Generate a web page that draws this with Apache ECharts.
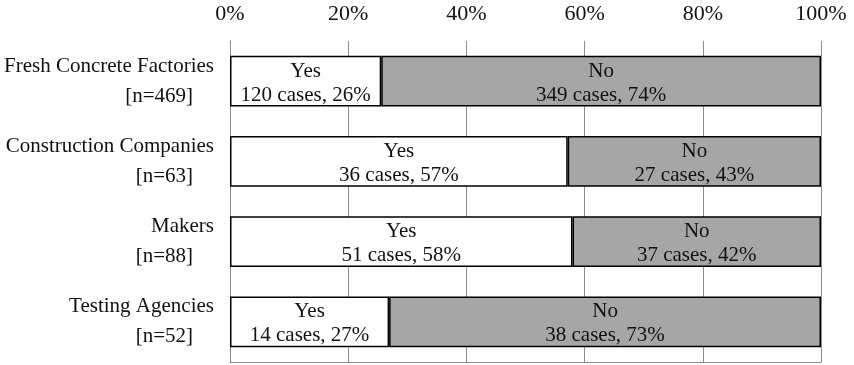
<!DOCTYPE html>
<html>
<head>
<meta charset="utf-8">
<script src="https://cdn.jsdelivr.net/npm/echarts@6/dist/echarts.min.js"></script>
<style>
  html, body { margin: 0; padding: 0; background: #fff; }
  #chart { width: 854px; height: 365px; }
</style>
</head>
<body>
<div id="chart"></div>
<script>
const categories = ["Fresh Concrete Factories", "Construction Companies", "Makers", "Testing Agencies"];
const sampleSizes = [469, 63, 88, 52];
const yesCases = [120, 36, 51, 14];
const noCases = [349, 27, 37, 38];
const yesLabels = [26, 57, 58, 27];
const noLabels = [74, 43, 42, 73];

const font = "'Liberation Serif', 'Times New Roman', serif";
const gray = "#a6a6a6";
const lineGray = "#8c8c8c";

// share of each answer within its group, in percent
const yesShare = yesCases.map((v, i) => (v / sampleSizes[i]) * 100);
const noShare = noCases.map((v, i) => (v / sampleSizes[i]) * 100);

function barLabel(word, cases, pcts) {
  return {
    show: true,
    position: "inside",
    offset: [0, 2],
    color: "#111",
    fontFamily: font,
    fontSize: 21,
    lineHeight: 24,
    formatter: (p) => word + "\n" + cases[p.dataIndex] + " cases, " + pcts[p.dataIndex] + "%",
  };
}

const chart = echarts.init(document.getElementById("chart"));
chart.setOption({
  animation: false,
  grid: { left: 230, right: 33, top: 41, bottom: 3 },
  xAxis: [
    {
      type: "value",
      position: "top",
      min: 0,
      max: 100,
      interval: 20,
      axisLine: { show: false },
      axisTick: { show: false },
      axisLabel: {
        color: "#111",
        fontFamily: font,
        fontSize: 22,
        margin: 16,
        formatter: "{value}%",
      },
      splitLine: { show: true, lineStyle: { color: lineGray, width: 1 } },
    },
    {
      type: "value",
      position: "bottom",
      min: 0,
      max: 100,
      axisLine: { show: true, onZero: false, lineStyle: { color: lineGray, width: 1 } },
      axisTick: { show: false },
      axisLabel: { show: false },
      splitLine: { show: false },
    },
  ],
  yAxis: {
    type: "category",
    inverse: true,
    data: categories,
    axisLine: { show: true, lineStyle: { color: lineGray, width: 1 } },
    axisTick: { show: false },
    axisLabel: {
      margin: 16,
      formatter: (v, i) => "{a|" + v + "}\n{b|[n=" + sampleSizes[i] + "]}",
      rich: {
        a: { fontFamily: font, fontSize: 21, color: "#111", lineHeight: 30, align: "right" },
        b: { fontFamily: font, fontSize: 21, color: "#111", lineHeight: 30, align: "right", padding: [0, 21, 0, 0] },
      },
    },
  },
  series: [
    {
      name: "Yes",
      type: "bar",
      stack: "total",
      barWidth: "63%",
      data: yesShare,
      itemStyle: { color: "#fff", borderColor: "#000", borderWidth: 1.5 },
      label: barLabel("Yes", yesCases, yesLabels),
    },
    {
      name: "No",
      type: "bar",
      stack: "total",
      barWidth: "63%",
      data: noShare,
      itemStyle: { color: gray, borderColor: "#000", borderWidth: 1.5 },
      label: barLabel("No", noCases, noLabels),
    },
  ],
});
</script>
</body>
</html>
